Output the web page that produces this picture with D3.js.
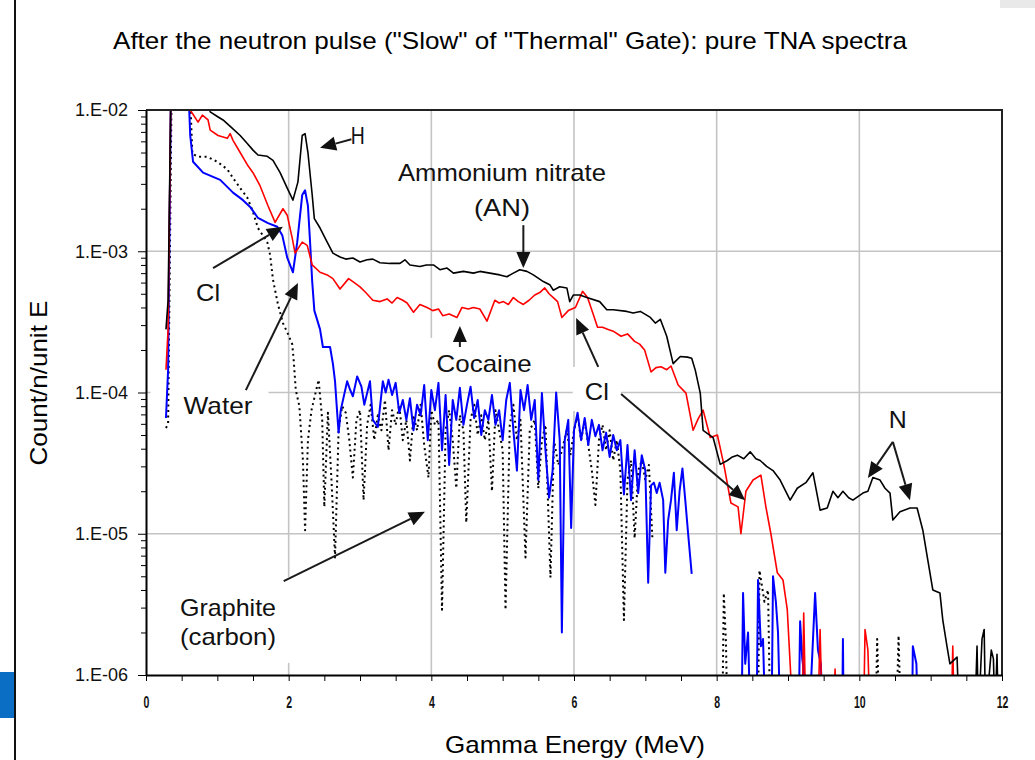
<!DOCTYPE html>
<html>
<head>
<meta charset="utf-8">
<script src="https://cdn.jsdelivr.net/npm/d3@7"></script>
<style>
  body { margin: 0; background: #fff; }
  svg { display: block; }
</style>
</head>
<body>
<svg id="chart" width="1035" height="760"></svg>
<script>
// Gamma energy in MeV, counts per neutron per unit energy.
// A count of 0 marks a gap in the recorded spectrum.
const ammoniumNitrate = [[0.28,2.8e-4],[0.31,4.5e-4],[0.35,1.5e-2],[0.85,1.2e-2],[0.90,9.7e-3],[1.00,9.0e-3],[1.08,8.5e-3],[1.20,7.5e-3],[1.32,6.6e-3],[1.42,5.8e-3],[1.50,5.2e-3],[1.57,4.8e-3],[1.70,4.7e-3],[1.78,4.4e-3],[1.88,3.6e-3],[1.98,2.8e-3],[2.06,2.3e-3],[2.13,3.1e-3],[2.19,6.6e-3],[2.23,6.8e-3],[2.27,5.0e-3],[2.33,2.5e-3],[2.36,1.7e-3],[2.44,1.46e-3],[2.54,1.16e-3],[2.62,9.7e-4],[2.72,9.1e-4],[2.80,8.8e-4],[2.90,8.95e-4],[3.00,8.4e-4],[3.10,8.7e-4],[3.18,8.8e-4],[3.28,8.3e-4],[3.42,8.2e-4],[3.56,8.2e-4],[3.63,8.7e-4],[3.70,8.0e-4],[3.84,7.8e-4],[3.93,8.0e-4],[4.03,8.0e-4],[4.12,7.4e-4],[4.22,7.6e-4],[4.31,7.0e-4],[4.45,7.2e-4],[4.59,7.0e-4],[4.68,7.2e-4],[4.82,7.0e-4],[4.96,6.8e-4],[5.06,6.6e-4],[5.15,7.0e-4],[5.24,7.4e-4],[5.34,7.2e-4],[5.43,6.8e-4],[5.57,6.1e-4],[5.66,5.8e-4],[5.71,5.3e-4],[5.80,5.6e-4],[5.90,5.5e-4],[5.94,4.4e-4],[5.99,4.9e-4],[6.08,4.9e-4],[6.18,4.7e-4],[6.36,4.4e-4],[6.46,3.85e-4],[6.55,3.85e-4],[6.74,3.75e-4],[6.83,3.65e-4],[6.93,3.75e-4],[7.07,3.4e-4],[7.14,3.1e-4],[7.21,3.3e-4],[7.30,2.5e-4],[7.39,1.6e-4],[7.49,1.8e-4],[7.59,1.78e-4],[7.65,1.75e-4],[7.70,1.44e-4],[7.77,9.9e-5],[7.81,5.4e-5],[7.95,4.8e-5],[8.05,3.1e-5],[8.15,3.3e-5],[8.22,3.5e-5],[8.29,3.6e-5],[8.38,3.4e-5],[8.47,3.8e-5],[8.55,3.4e-5],[8.61,3.3e-5],[8.70,3.0e-5],[8.79,2.8e-5],[8.89,2.4e-5],[9.03,1.73e-5],[9.13,2.1e-5],[9.25,2.3e-5],[9.35,2.7e-5],[9.45,1.47e-5],[9.55,1.52e-5],[9.63,2.0e-5],[9.70,1.8e-5],[9.77,2.0e-5],[9.85,1.8e-5],[9.91,1.73e-5],[10.05,1.94e-5],[10.12,2.0e-5],[10.19,2.5e-5],[10.29,2.4e-5],[10.36,2.1e-5],[10.43,1.94e-5],[10.47,1.25e-5],[10.57,1.43e-5],[10.71,1.52e-5],[10.81,1.52e-5],[10.89,1.06e-5],[10.96,6.5e-6],[11.03,4.0e-6],[11.13,3.8e-6],[11.17,2.45e-6],[11.23,1.58e-6],[11.27,1.2e-6],[11.37,1.34e-6],[11.40,5e-7],[11.62,5e-7],[11.65,1.6e-6],[11.67,5e-7],[11.72,1.8e-6],[11.75,2.1e-6],[11.77,5e-7],[11.85,1.5e-6],[11.88,1.3e-6],[11.90,5e-7],[11.93,1.4e-6],[11.95,5e-7]];

const cocaine = [[0.28,1.45e-4],[0.31,2.8e-4],[0.35,1.5e-2],[0.60,1.2e-2],[0.62,1.0e-2],[0.73,8.2e-3],[0.79,9.2e-3],[0.87,8.5e-3],[0.90,7.2e-3],[1.01,6.6e-3],[1.14,6.3e-3],[1.18,6.8e-3],[1.22,6.1e-3],[1.32,5.0e-3],[1.42,4.1e-3],[1.50,3.6e-3],[1.60,2.9e-3],[1.71,2.1e-3],[1.81,1.6e-3],[1.92,2.0e-3],[1.98,1.8e-3],[2.05,1.24e-3],[2.09,9.7e-4],[2.19,1.16e-3],[2.26,1.1e-3],[2.33,8.0e-4],[2.44,7.1e-4],[2.54,6.8e-4],[2.62,6.4e-4],[2.72,5.4e-4],[2.84,6.4e-4],[2.92,6.0e-4],[3.00,5.6e-4],[3.08,5.1e-4],[3.18,4.5e-4],[3.28,4.4e-4],[3.38,4.6e-4],[3.45,4.3e-4],[3.52,4.7e-4],[3.60,4.5e-4],[3.66,4.3e-4],[3.75,3.7e-4],[3.84,4.2e-4],[3.94,4.0e-4],[4.02,3.8e-4],[4.10,3.9e-4],[4.16,3.5e-4],[4.25,3.6e-4],[4.36,3.4e-4],[4.43,4.0e-4],[4.52,3.9e-4],[4.59,4.0e-4],[4.68,3.9e-4],[4.78,3.2e-4],[4.89,4.5e-4],[4.95,4.3e-4],[5.01,4.4e-4],[5.08,4.2e-4],[5.15,4.7e-4],[5.22,4.4e-4],[5.29,4.2e-4],[5.37,4.5e-4],[5.45,4.9e-4],[5.52,5.1e-4],[5.59,5.5e-4],[5.65,5.0e-4],[5.71,4.7e-4],[5.77,4.4e-4],[5.83,3.4e-4],[5.92,3.8e-4],[6.02,4.0e-4],[6.12,5.2e-4],[6.19,4.7e-4],[6.26,3.7e-4],[6.33,2.9e-4],[6.40,2.9e-4],[6.47,2.8e-4],[6.56,2.7e-4],[6.66,2.5e-4],[6.75,2.6e-4],[6.85,2.3e-4],[6.92,2.2e-4],[6.99,2.0e-4],[7.08,1.4e-4],[7.15,1.5e-4],[7.22,1.52e-4],[7.30,1.45e-4],[7.36,1.54e-4],[7.46,1.13e-4],[7.57,9.9e-5],[7.67,5.4e-5],[7.74,6.5e-5],[7.81,7.5e-5],[7.91,4.8e-5],[8.01,5.0e-5],[8.10,3.1e-5],[8.20,1.65e-5],[8.30,1.55e-5],[8.34,1.0e-5],[8.41,2.0e-5],[8.51,2.4e-5],[8.62,2.6e-5],[8.69,1.55e-5],[8.76,1.0e-5],[8.85,5.3e-6],[8.93,4.7e-6],[8.99,2.9e-6],[9.07,5e-7],[9.20,5e-7],[9.22,2.75e-6],[9.25,5e-7],[9.42,5e-7],[9.45,2.1e-6],[9.48,5e-7],[9.64,5e-7],[9.66,1.1e-6],[9.68,5e-7],[10.06,5e-7],[10.08,2.1e-6],[10.12,1.5e-6],[10.15,5e-7],[11.29,5e-7],[11.31,1.6e-6],[11.33,5e-7]];

const water = [[0.28,6.6e-5],[0.31,1.45e-4],[0.35,1.5e-2],[0.60,1.2e-2],[0.62,6.6e-3],[0.66,4.3e-3],[0.80,3.6e-3],[0.94,3.36e-3],[1.04,3.2e-3],[1.22,2.6e-3],[1.36,2.3e-3],[1.46,2.06e-3],[1.57,1.72e-3],[1.71,1.58e-3],[1.84,1.49e-3],[1.91,1.3e-3],[1.98,9.0e-4],[2.06,7.1e-4],[2.12,1.16e-3],[2.19,2.5e-3],[2.23,2.7e-3],[2.27,2.1e-3],[2.30,1.16e-3],[2.33,6.1e-4],[2.36,3.8e-4],[2.44,2.8e-4],[2.48,2.1e-4],[2.58,2.1e-4],[2.62,1.6e-4],[2.65,1.2e-4],[2.68,7.2e-5],[2.70,5.2e-5],[2.73,7.5e-5],[2.82,1.2e-4],[2.86,1.05e-4],[2.90,9.4e-5],[2.96,1.3e-4],[3.02,1.1e-4],[3.06,8.2e-5],[3.10,9.9e-5],[3.14,1.2e-4],[3.18,6.4e-5],[3.25,5.7e-5],[3.32,1.2e-4],[3.36,1.0e-4],[3.40,1.23e-4],[3.45,9.6e-5],[3.50,1.17e-4],[3.55,7.2e-5],[3.60,8.85e-5],[3.65,6.4e-5],[3.70,9.1e-5],[3.75,5.4e-5],[3.80,8.2e-5],[3.85,6.9e-5],[3.90,1.13e-4],[3.95,4.6e-5],[4.00,1.04e-4],[4.05,7.5e-5],[4.10,1.17e-4],[4.15,3.9e-5],[4.20,9.6e-5],[4.25,3.07e-5],[4.30,8.85e-5],[4.35,6.4e-5],[4.40,1.08e-4],[4.45,5.9e-5],[4.50,8.2e-5],[4.55,1.1e-4],[4.60,6.6e-5],[4.65,8.85e-5],[4.70,5.0e-5],[4.75,7.5e-5],[4.80,6.4e-5],[4.85,9.6e-5],[4.90,5.9e-5],[4.95,7.5e-5],[5.00,4.6e-5],[5.05,8.85e-5],[5.10,1.17e-4],[5.15,5.4e-5],[5.20,2.8e-5],[5.25,1.04e-4],[5.30,7.5e-5],[5.35,1.13e-4],[5.40,6.4e-5],[5.45,8.85e-5],[5.50,2.4e-5],[5.55,9.9e-5],[5.60,3.9e-5],[5.65,1.8e-5],[5.70,2.8e-5],[5.75,1.0e-4],[5.80,4.6e-5],[5.83,2.0e-6],[5.87,4.6e-5],[5.92,6.4e-5],[5.96,1.1e-5],[6.00,5.4e-5],[6.05,7.2e-5],[6.10,4.6e-5],[6.15,6.6e-5],[6.20,4.25e-5],[6.25,6.4e-5],[6.30,4.9e-5],[6.35,5.9e-5],[6.40,3.9e-5],[6.45,5.2e-5],[6.50,3.5e-5],[6.55,5.0e-5],[6.60,3.9e-5],[6.65,4.6e-5],[6.70,1.9e-5],[6.75,4.25e-5],[6.80,1.73e-5],[6.85,3.9e-5],[6.90,1.94e-5],[6.95,3.6e-5],[7.00,2.8e-5],[7.04,4.5e-6],[7.08,2.2e-5],[7.12,2.3e-5],[7.16,1.94e-5],[7.20,2.3e-5],[7.25,1.73e-5],[7.28,5.3e-6],[7.32,1.25e-5],[7.36,1.73e-5],[7.40,2.7e-5],[7.44,1.06e-5],[7.48,2.0e-5],[7.52,2.9e-5],[7.56,1.73e-5],[7.60,1.0e-5],[7.65,5.2e-6],[7.66,0],[8.35,5e-7],[8.37,3.8e-6],[8.40,1.2e-6],[8.44,2.0e-6],[8.47,5e-7],[8.56,5e-7],[8.58,4.7e-6],[8.62,1.6e-6],[8.65,1.8e-6],[8.68,5e-7],[8.77,5e-7],[8.79,5.0e-6],[8.83,3.3e-6],[8.86,2.0e-6],[8.89,5e-7],[9.15,5e-7],[9.17,2.4e-6],[9.20,1.3e-6],[9.30,5e-7],[9.38,3.8e-6],[9.42,1.5e-6],[9.46,1.2e-6],[9.49,5e-7],[9.76,5e-7],[9.77,1.8e-6],[9.78,5e-7],[10.74,5e-7],[10.75,1.6e-6],[10.80,1.2e-6],[10.82,5e-7]];

const graphite = [[0.28,5.6e-5],[0.31,6.0e-5],[0.36,1.5e-2],[0.62,1.2e-2],[0.65,4.9e-3],[0.73,4.66e-3],[0.86,4.66e-3],[1.00,4.3e-3],[1.14,3.8e-3],[1.22,3.3e-3],[1.32,2.8e-3],[1.42,2.4e-3],[1.50,1.9e-3],[1.57,1.46e-3],[1.70,1.16e-3],[1.74,9.4e-4],[1.78,6.3e-4],[1.85,4.2e-4],[1.92,3.1e-4],[1.99,2.6e-4],[2.05,2.2e-4],[2.07,1.7e-4],[2.10,1.04e-4],[2.15,8.0e-5],[2.20,3.3e-5],[2.23,1.06e-5],[2.27,4.6e-5],[2.32,7.5e-5],[2.37,9.6e-5],[2.42,1.23e-4],[2.47,6.4e-5],[2.50,1.55e-5],[2.55,7.2e-5],[2.60,2.4e-5],[2.65,6.8e-6],[2.70,5.4e-5],[2.75,8.0e-5],[2.80,7.2e-5],[2.85,4.6e-5],[2.90,2.5e-5],[2.95,6.4e-5],[3.00,7.5e-5],[3.05,1.73e-5],[3.10,5.9e-5],[3.15,8.2e-5],[3.20,4.6e-5],[3.25,6.9e-5],[3.30,5.4e-5],[3.35,8.85e-5],[3.40,3.9e-5],[3.45,7.5e-5],[3.50,5.9e-5],[3.55,8.2e-5],[3.60,4.6e-5],[3.65,6.4e-5],[3.70,3.3e-5],[3.75,6.9e-5],[3.80,5.4e-5],[3.85,8.2e-5],[3.90,4.25e-5],[3.96,2.5e-5],[4.00,7.5e-5],[4.05,5.9e-5],[4.10,6.4e-5],[4.15,2.9e-6],[4.20,5.4e-5],[4.25,7.5e-5],[4.30,4.6e-5],[4.35,2.1e-5],[4.40,6.9e-5],[4.45,5.4e-5],[4.49,1.2e-5],[4.55,6.4e-5],[4.60,8.2e-5],[4.65,5.0e-5],[4.70,6.9e-5],[4.75,4.6e-5],[4.80,6.4e-5],[4.85,2.0e-5],[4.90,7.5e-5],[4.95,5.4e-5],[5.00,3.9e-5],[5.04,2.9e-6],[5.10,5.9e-5],[5.15,8.2e-5],[5.20,4.6e-5],[5.25,6.4e-5],[5.32,6.8e-6],[5.38,5.4e-5],[5.45,6.4e-5],[5.50,2.1e-5],[5.55,4.6e-5],[5.60,5.9e-5],[5.67,4.9e-6],[5.72,4.6e-5],[5.78,3.07e-5],[5.83,3.9e-5],[5.90,5.4e-5],[5.95,3.6e-5],[6.00,5.4e-5],[6.05,6.9e-5],[6.10,4.6e-5],[6.15,6.4e-5],[6.20,4.25e-5],[6.25,2.8e-5],[6.30,1.6e-5],[6.35,4.6e-5],[6.40,5.9e-5],[6.45,3.9e-5],[6.50,5.4e-5],[6.55,3.3e-5],[6.60,4.6e-5],[6.65,2.8e-5],[6.70,2.45e-6],[6.75,2.4e-5],[6.80,3.3e-5],[6.85,9.3e-6],[6.90,2.8e-5],[6.95,3.3e-5],[7.00,2.4e-5],[7.05,3.07e-5],[7.10,9.0e-6],[7.11,0],[8.08,5e-7],[8.10,3.8e-6],[8.13,1.7e-6],[8.15,5e-7],[8.58,5e-7],[8.60,5.5e-6],[8.67,3.3e-6],[8.72,4.0e-6],[8.75,5e-7],[10.23,5e-7],[10.25,1.8e-6],[10.28,5e-7],[10.52,5e-7],[10.55,1.9e-6],[10.58,5e-7]];

const energyTicks = [0, 2, 4, 6, 8, 10, 12];
const gridEnergies = [2, 4, 6, 8, 10];
const countDecades = [1e-6, 1e-5, 1e-4, 1e-3, 1e-2];
const countTickLabels = ["1.E-06", "1.E-05", "1.E-04", "1.E-03", "1.E-02"];

const FONT = "'Liberation Sans', Arial, Helvetica, sans-serif";
const svg = d3.select("#chart");

const x = d3.scaleLinear().domain([0, 12]).range([146, 1002]);
const y = d3.scaleLog().domain([1e-6, 1e-2]).range([675, 110]);
const [plotLeft, plotRight] = x.range();
const [plotBottom, plotTop] = y.range();

// page decorations
svg.append("rect").attr("x", 1000).attr("y", 0).attr("width", 35).attr("height", 8).attr("fill", "#e9e9e9");
svg.append("rect").attr("x", 0).attr("y", 672).attr("width", 14).attr("height", 46).attr("fill", "#0a6fc4");
svg.append("line").attr("x1", 15).attr("x2", 15).attr("y1", 0).attr("y2", 760).attr("stroke", "#111").attr("stroke-width", 2);

// title
svg.append("text").attr("x", 510).attr("y", 49).attr("text-anchor", "middle")
  .attr("font-family", FONT).attr("font-size", 24).attr("textLength", 794).attr("lengthAdjust", "spacingAndGlyphs")
  .text("After the neutron pulse (\"Slow\" of \"Thermal\" Gate): pure TNA spectra");

// grid
const grid = svg.append("g").attr("stroke", "#c4c4c4").attr("stroke-width", 1.6);
grid.selectAll(".gx").data(gridEnergies).join("line")
  .attr("x1", d => x(d)).attr("x2", d => x(d)).attr("y1", plotTop).attr("y2", plotBottom);
grid.selectAll(".gy").data(countDecades.slice(1, -1)).join("line")
  .attr("y1", d => y(d)).attr("y2", d => y(d)).attr("x1", plotLeft).attr("x2", plotRight);

const boxLayer = svg.append("g");

// spectra
svg.append("clipPath").attr("id", "plotClip").append("rect")
  .attr("x", plotLeft).attr("y", plotTop).attr("width", plotRight - plotLeft).attr("height", plotBottom - plotTop);
const line = d3.line().defined(d => d[1] > 0).x(d => x(d[0])).y(d => y(d[1]));
const plot = svg.append("g").attr("clip-path", "url(#plotClip)").attr("fill", "none")
  .attr("stroke-linejoin", "round");
plot.append("path").datum(graphite).attr("d", line).attr("stroke", "#000").attr("stroke-width", 2)
  .attr("stroke-dasharray", "2,3.5");
plot.append("path").datum(water).attr("d", line).attr("stroke", "#0000ff").attr("stroke-width", 2);
plot.append("path").datum(cocaine).attr("d", line).attr("stroke", "#ff0000").attr("stroke-width", 1.6);
plot.append("path").datum(ammoniumNitrate).attr("d", line).attr("stroke", "#000").attr("stroke-width", 1.6);

// frame
svg.append("path").attr("d", `M${plotLeft},${plotTop}H${plotRight}V${plotBottom}`).attr("fill", "none")
  .attr("stroke", "#222").attr("stroke-width", 2);

// y axis
const minorTicks = [];
countDecades.slice(0, -1).forEach(d => { for (let k = 2; k <= 9; k++) minorTicks.push(d * k); });
const yAxis = svg.append("g").attr("transform", `translate(${plotLeft},0)`)
  .call(d3.axisLeft(y).tickValues(countDecades).tickSizeInner(8).tickSizeOuter(0).tickPadding(10)
    .tickFormat((d, i) => countTickLabels[i]));
svg.append("g").attr("transform", `translate(${plotLeft},0)`)
  .call(d3.axisLeft(y).tickValues(minorTicks).tickSize(5).tickFormat(""))
  .call(g => g.select(".domain").remove());
yAxis.select(".domain").attr("stroke", "#000").attr("stroke-width", 2);
yAxis.selectAll("text").attr("font-family", FONT).attr("font-size", 18).attr("fill", "#111");

// x axis: ticks every 0.5 MeV, labels on even energies
const xAxis = svg.append("g").attr("transform", `translate(0,${plotBottom})`)
  .call(d3.axisBottom(x).tickValues(d3.range(0, 12.01, 0.5)).tickSizeInner(6).tickSizeOuter(0).tickPadding(15)
    .tickFormat(d => energyTicks.includes(d) ? d : ""));
xAxis.select(".domain").attr("stroke", "#000").attr("stroke-width", 2);
xAxis.selectAll("text").attr("font-family", FONT)
  .attr("font-size", 17).attr("font-weight", "bold").attr("fill", "#111")
  .attr("transform", "scale(0.62,1)");

// axis titles
svg.append("text").attr("x", 575).attr("y", 753).attr("text-anchor", "middle")
  .attr("font-family", FONT).attr("font-size", 24).attr("textLength", 260).attr("lengthAdjust", "spacingAndGlyphs")
  .text("Gamma Energy (MeV)");
svg.append("text").attr("transform", "translate(47,383) rotate(-90)").attr("text-anchor", "middle")
  .attr("font-family", FONT).attr("font-size", 24).attr("textLength", 165).attr("lengthAdjust", "spacingAndGlyphs")
  .text("Count/n/unit E");

// annotations (anchored in energy / count units)
const arrowLayer = svg.append("g");
function arrow(from, to) {
  const x1 = x(from[0]), y1 = y(from[1]), x2 = x(to[0]), y2 = y(to[1]);
  const a = Math.atan2(y2 - y1, x2 - x1), L = 16, W = 7;
  const bx = x2 - L * Math.cos(a), by = y2 - L * Math.sin(a);
  arrowLayer.append("line").attr("x1", x1).attr("y1", y1).attr("x2", bx).attr("y2", by)
    .attr("stroke", "#1a1a1a").attr("stroke-width", 2);
  arrowLayer.append("polygon")
    .attr("points", [[x2, y2], [bx + W * Math.sin(a), by - W * Math.cos(a)], [bx - W * Math.sin(a), by + W * Math.cos(a)]].join(" "))
    .attr("fill", "#111");
}
const labelLayer = svg.append("g").attr("font-family", FONT).attr("font-size", 24).attr("fill", "#111");
function label(lines, at, width, lineGap = 0, pad = null) {
  const t = labelLayer.append("text").attr("text-anchor", "middle");
  lines.forEach((s, i) => {
    t.append("tspan").attr("x", x(at[0])).attr("y", y(at[1]) + i * lineGap)
      .attr("textLength", width[i]).attr("lengthAdjust", "spacingAndGlyphs").text(s);
  });
  if (pad) {
    const b = t.node().getBBox();
    boxLayer.append("rect").attr("x", b.x - pad[0]).attr("y", b.y - pad[2])
      .attr("width", b.width + pad[0] + pad[1]).attr("height", b.height + pad[2] + pad[3]).attr("fill", "#fff");
  }
}

label(["H"], [2.97, 5.75e-3], [14]);
arrow([2.88, 6.2e-3], [2.44, 5.4e-3]);

label(["Ammonium nitrate", "(AN)"], [4.99, 3.14e-3], [208, 56], 35);
arrow([5.29, 1.53e-3], [5.29, 7.6e-4]);

label(["Cocaine"], [4.74, 1.40e-4], [95], 0, [8, 8, 12, 13]);
arrow([4.40, 2.1e-4], [4.40, 2.96e-4]);

label(["Cl"], [6.32, 8.85e-5], [24], 0, [12, 12, 11, 6]);
arrow([6.34, 1.52e-4], [6.03, 3.37e-4]);
arrow([6.66, 9.75e-5], [8.40, 1.73e-5]);

label(["Cl"], [0.87, 4.45e-4], [24]);
arrow([0.94, 7.6e-4], [1.92, 1.49e-3]);

label(["Water"], [1.01, 7.05e-5], [69], 0, [33, 16, 4, 2]);
arrow([1.40, 1.04e-4], [2.13, 5.96e-4]);

label(["Graphite", "(carbon)"], [1.15, 2.62e-6], [96, 96], 29, [10, 18, 17, 13]);
arrow([1.93, 4.62e-6], [3.91, 1.43e-5]);

label(["N"], [10.54, 5.61e-5], [18]);
arrow([10.47, 4.47e-5], [10.12, 2.48e-5]);
arrow([10.47, 4.47e-5], [10.71, 1.73e-5]);
</script>
</body>
</html>
